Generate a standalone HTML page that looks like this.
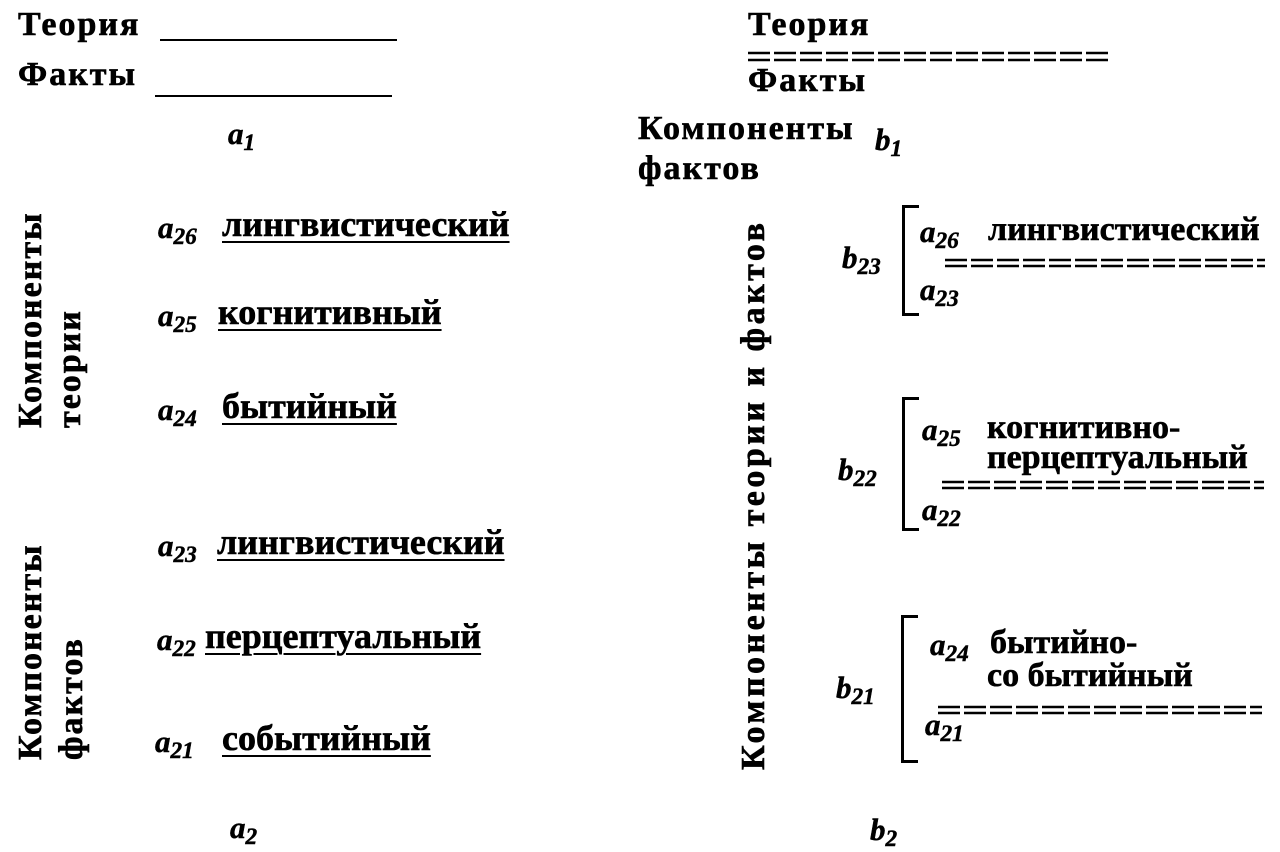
<!DOCTYPE html>
<html><head><meta charset="utf-8"><style>
html,body{margin:0;padding:0;background:#fff;}
body{width:1280px;height:848px;position:relative;overflow:hidden;font-family:"Liberation Serif","DejaVu Serif",serif;color:#000;}
.t{position:absolute;white-space:nowrap;line-height:1;font-weight:bold;font-size:36px;letter-spacing:0px;-webkit-text-stroke:0.6px #000;}
.big{font-size:34px;letter-spacing:2px;}
.i{position:absolute;white-space:nowrap;line-height:1;font-weight:bold;font-style:italic;font-size:31px;-webkit-text-stroke:0.5px #000;}
.i sub{font-size:0.75em;vertical-align:-0.25em;line-height:0;}
.u{text-decoration:underline;text-decoration-thickness:2px;text-underline-offset:5px;}
.r{position:absolute;white-space:nowrap;line-height:1;font-weight:bold;font-size:34px;letter-spacing:2px;transform-origin:0 0;transform:rotate(-90deg);-webkit-text-stroke:0.6px #000;}
.ln{position:absolute;background:#000;}
</style></head><body>

<div class="t big" style="left:18px;top:8px">Теория</div>
<div class="ln" style="left:160px;top:39px;width:237px;height:2px"></div>
<div class="t big" style="left:18px;top:58px">Факты</div>
<div class="ln" style="left:155px;top:95px;width:237px;height:2px"></div>
<div class="i" style="left:228px;top:118px">a<sub>1</sub></div>

<div class="t big" style="left:748px;top:8px">Теория</div>
<svg style="position:absolute;left:746px;top:48px" width="364" height="18"><g stroke="#000" stroke-width="2.5" stroke-dasharray="22 4"><line x1="2" y1="5" x2="362" y2="5"/><line x1="2" y1="12" x2="362" y2="12"/></g></svg>
<div class="t big" style="left:748px;top:64px">Факты</div>
<div class="t big" style="left:638px;top:112px">Компоненты</div>
<div class="i" style="left:875px;top:124px">b<sub>1</sub></div>
<div class="t big" style="left:638px;top:152px">фактов</div>

<div class="r" style="left:14px;top:428px">Компоненты</div>
<div class="r" style="left:53px;top:428px">теории</div>
<div class="r" style="left:14px;top:760px">Компоненты</div>
<div class="r" style="left:55px;top:760px">фактов</div>
<div class="r" style="left:737px;top:770px;letter-spacing:3.5px">Компоненты теории и фактов</div>

<div class="i" style="left:158px;top:212px">a<sub>26</sub></div>
<div class="t u" style="left:222px;top:206px">лингвистический</div>
<div class="i" style="left:158px;top:300px">a<sub>25</sub></div>
<div class="t u" style="left:218px;top:294px">когнитивный</div>
<div class="i" style="left:158px;top:394px">a<sub>24</sub></div>
<div class="t u" style="left:222px;top:388px">бытийный</div>
<div class="i" style="left:158px;top:530px">a<sub>23</sub></div>
<div class="t u" style="left:217px;top:524px">лингвистический</div>
<div class="i" style="left:157px;top:624px">a<sub>22</sub></div>
<div class="t u" style="left:205px;top:618px">перцептуальный</div>
<div class="i" style="left:155px;top:726px">a<sub>21</sub></div>
<div class="t u" style="left:222px;top:720px">событийный</div>

<div class="i" style="left:230px;top:812px">a<sub>2</sub></div>
<div class="i" style="left:870px;top:814px">b<sub>2</sub></div>

<!-- b23 -->
<div class="i" style="left:842px;top:242px">b<sub>23</sub></div>
<div class="ln" style="left:902px;top:205px;width:3px;height:111px"></div>
<div class="ln" style="left:902px;top:205px;width:17px;height:3px"></div>
<div class="ln" style="left:902px;top:313px;width:17px;height:3px"></div>
<div class="i" style="left:920px;top:216px">a<sub>26</sub></div>
<div class="t" style="left:988px;top:213px;font-size:34px">лингвистический</div>
<svg style="position:absolute;left:943px;top:256px" width="324" height="14"><g stroke="#000" stroke-width="2.5" stroke-dasharray="22 4"><line x1="2" y1="4" x2="322" y2="4"/><line x1="2" y1="10" x2="322" y2="10"/></g></svg>
<div class="i" style="left:920px;top:274px">a<sub>23</sub></div>

<!-- b22 -->
<div class="i" style="left:838px;top:454px">b<sub>22</sub></div>
<div class="ln" style="left:902px;top:397px;width:3px;height:134px"></div>
<div class="ln" style="left:902px;top:397px;width:17px;height:3px"></div>
<div class="ln" style="left:902px;top:528px;width:17px;height:3px"></div>
<div class="i" style="left:922px;top:414px">a<sub>25</sub></div>
<div class="t" style="left:987px;top:411px;font-size:34px">когнитивно-</div>
<div class="t" style="left:987px;top:441px;font-size:34px">перцептуальный</div>
<svg style="position:absolute;left:940px;top:478px" width="326" height="14"><g stroke="#000" stroke-width="2.5" stroke-dasharray="22 4"><line x1="2" y1="4" x2="324" y2="4"/><line x1="2" y1="10" x2="324" y2="10"/></g></svg>
<div class="i" style="left:922px;top:494px">a<sub>22</sub></div>

<!-- b21 -->
<div class="i" style="left:836px;top:672px">b<sub>21</sub></div>
<div class="ln" style="left:901px;top:615px;width:3px;height:148px"></div>
<div class="ln" style="left:901px;top:615px;width:17px;height:3px"></div>
<div class="ln" style="left:901px;top:760px;width:17px;height:3px"></div>
<div class="i" style="left:930px;top:629px">a<sub>24</sub></div>
<div class="t" style="left:990px;top:626px;font-size:34px">бытийно-</div>
<div class="t" style="left:987px;top:659px;font-size:34px">со бытийный</div>
<svg style="position:absolute;left:936px;top:703px" width="328" height="14"><g stroke="#000" stroke-width="2.5" stroke-dasharray="22 4"><line x1="2" y1="4" x2="326" y2="4"/><line x1="2" y1="10" x2="326" y2="10"/></g></svg>
<div class="i" style="left:925px;top:709px">a<sub>21</sub></div>

</body></html>
